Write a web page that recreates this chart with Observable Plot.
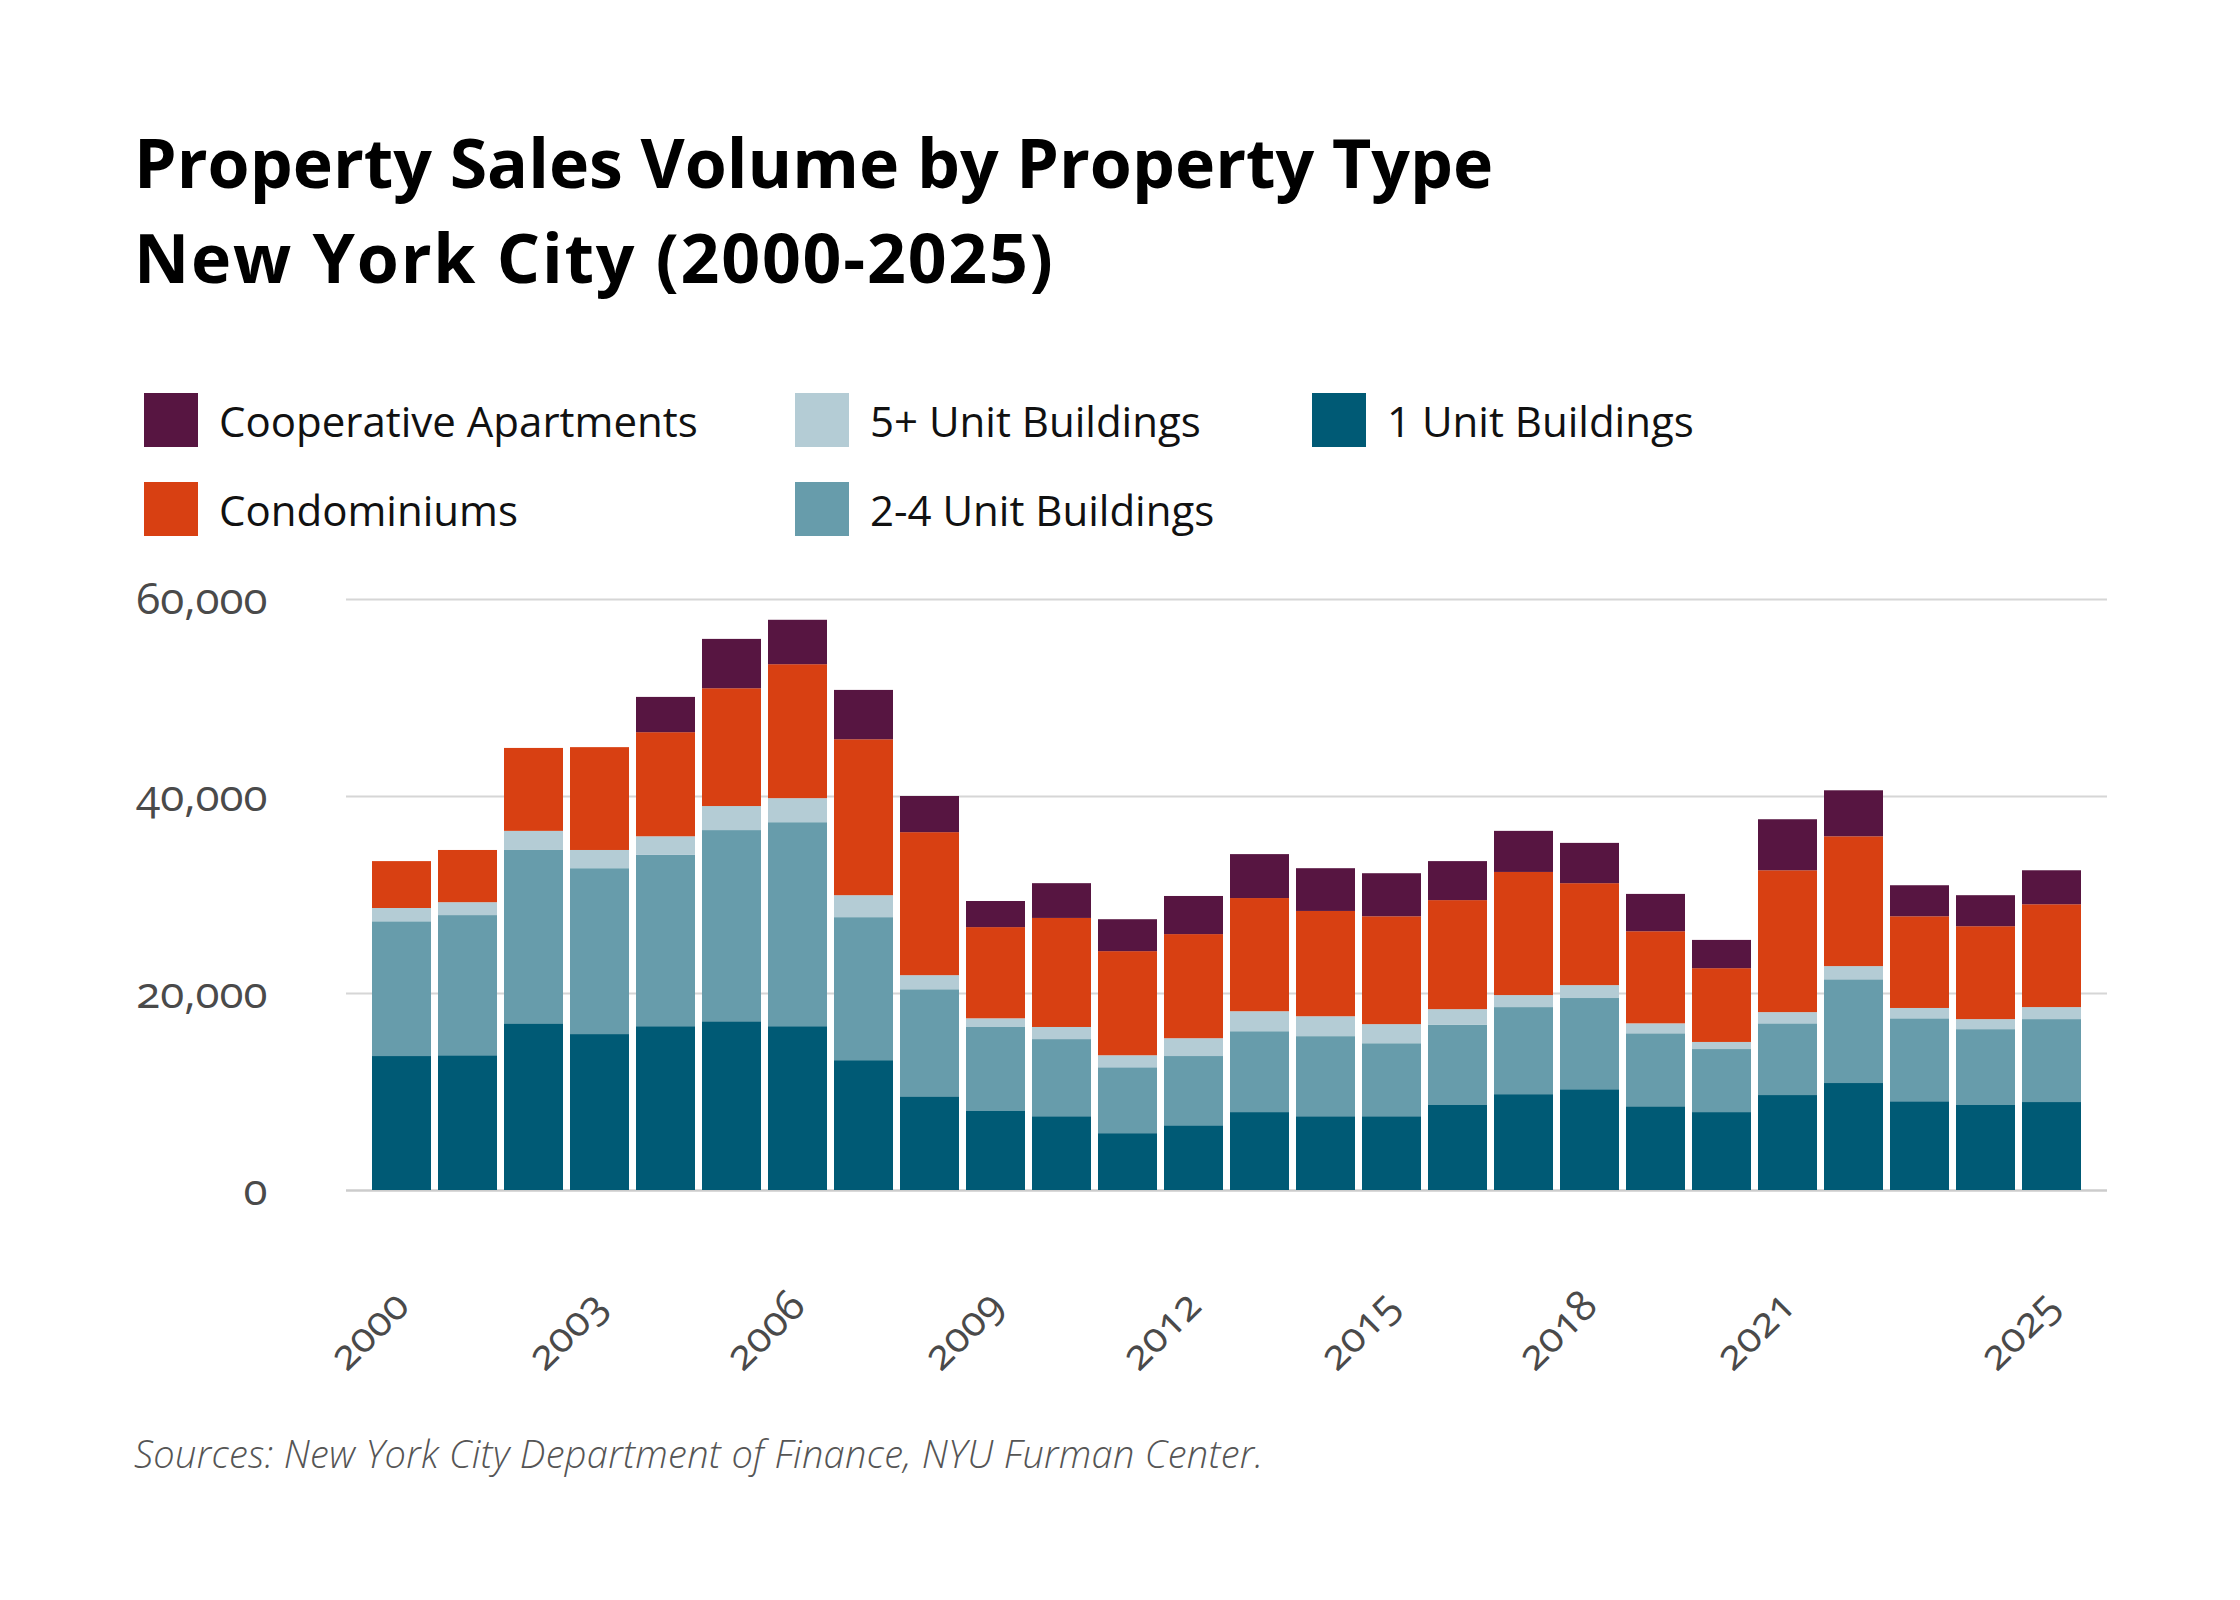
<!DOCTYPE html>
<html>
<head>
<meta charset="utf-8">
<script src="https://cdn.jsdelivr.net/npm/d3@7"></script>
<script src="https://cdn.jsdelivr.net/npm/@observablehq/plot@0.6"></script>
<style>
  html, body { margin: 0; padding: 0; background: #fff; }
  #page { position: relative; width: 2240px; height: 1600px; background: #fff; overflow: hidden; }
  #title { position: absolute; left: 134px; top: 114px; font-family: "Open Sans", Roboto, sans-serif; font-weight: 700; font-size: 68px; line-height: 95px; color: #000; white-space: nowrap; letter-spacing: 0px; }
  #title .l2 { letter-spacing: 1.8px; }
  #legend { position: absolute; left: 144px; top: 393px; display: grid; grid-template-columns: 651px 517px auto; grid-template-rows: 54px 54px; row-gap: 35px; grid-auto-flow: column; font-family: "Open Sans", Roboto, sans-serif; font-size: 42px; color: #111; }
  .item { display: flex; align-items: center; white-space: nowrap; }
  .sw { width: 54px; height: 54px; margin-right: 21px; flex: none; }
  #chart { position: absolute; left: 0; top: 560px; }
  #source { position: absolute; left: 134px; top: 1427px; font-family: "Open Sans", Lato, sans-serif; font-style: italic; font-weight: 300; font-size: 38px; color: #555; white-space: nowrap; letter-spacing: 0.3px; }
</style>
</head>
<body>
<div id="page">
  <div id="title">Property Sales Volume by Property Type<br><span class="l2">New York City (2000-2025)</span></div>
  <div id="legend"></div>
  <div id="chart"></div>
  <div id="source">Sources: New York City Department of Finance, NYU Furman Center.</div>
</div>
<script>
const years = [2000,2001,2002,2003,2004,2005,2006,2007,2008,2009,2010,2011,2012,2013,2014,2015,2016,2017,2018,2019,2020,2021,2022,2023,2024,2025];
const oneUnit  = [13600,13680,16920,15830,16630,17130,16630,13180,9510,8080,7490,5770,6570,7910,7490,7490,8630,9730,10230,8500,7910,9640,10860,9010,8630,8930];
const twoFour  = [13680,14230,17600,16840,17390,19410,20710,14520,10870,8470,7830,6690,7030,8210,8130,7410,8130,8840,9260,7410,6400,7280,10530,8420,7700,8420];
const fivePlus = [1350,1310,1940,1850,1890,2440,2440,2230,1430,880,1230,1220,1810,2030,2020,1940,1600,1220,1310,1010,720,1140,1340,1050,1020,1220];
const condo    = [4760,5300,8420,10440,10570,11960,13600,15830,14520,9260,11070,10570,10570,11490,10690,10950,11070,12500,10350,9350,7490,14400,13180,9310,9430,10440];
const coop     = [0,0,0,0,3580,5010,4510,5010,3670,2650,3530,3240,3870,4460,4340,4370,3960,4170,4090,3790,2870,5180,4670,3150,3150,3450];

const seriesNames = ["1 Unit Buildings","2-4 Unit Buildings","5+ Unit Buildings","Condominiums","Cooperative Apartments"];
const seriesColors = ["#005a75","#679cab","#b4ccd5","#d84012","#571541"];
const legendOrder = ["Cooperative Apartments","Condominiums","5+ Unit Buildings","2-4 Unit Buildings","1 Unit Buildings"];
const xTicks = [2000,2003,2006,2009,2012,2015,2018,2021,2025];
const yTicks = [0,20000,40000,60000];

const seriesValues = [oneUnit, twoFour, fivePlus, condo, coop];
const data = [];
years.forEach((yr, i) => {
  seriesNames.forEach((s, j) => data.push({year: yr, type: s, value: seriesValues[j][i]}));
});

// legend
const legend = document.getElementById("legend");
legendOrder.forEach(name => {
  const item = document.createElement("div");
  item.className = "item";
  const sw = document.createElement("div");
  sw.className = "sw";
  sw.style.background = seriesColors[seriesNames.indexOf(name)];
  const t = document.createElement("span");
  t.textContent = name;
  item.appendChild(sw);
  item.appendChild(t);
  legend.appendChild(item);
});

const chart = Plot.plot({
  width: 2240,
  height: 900,
  marginTop: 39,
  marginBottom: 270,
  marginLeft: 346,
  marginRight: 133,
  style: {fontFamily: "'Open Sans', Lato, sans-serif", fontSize: "44px", color: "#4a4a4a", background: "#fff", fontVariantNumeric: "oldstyle-nums", fontFeatureSettings: "'onum' 1"},
  x: {type: "band", domain: years, paddingInner: 0.104, paddingOuter: 0.209, label: null},
  y: {domain: [0, 60000], label: null},
  color: {domain: seriesNames, range: seriesColors},
  marks: [
    Plot.gridY(yTicks.filter(d => d > 0), {stroke: "#d6d6d6", strokeOpacity: 1, strokeWidth: 2}),
    Plot.ruleY([0], {stroke: "#cccccc", strokeWidth: 2.5}),
    Plot.barY(data, Plot.stackY({x: "year", y: "value", fill: "type", order: seriesNames})),
    Plot.axisY({ticks: yTicks, tickSize: 0, tickPadding: 79, tickFormat: d3.format(","), label: null, fontSize: 44}),
    Plot.axisX({ticks: xTicks, tickSize: 0, tickPadding: 108, tickRotate: -45, tickFormat: d => `${d}`, label: null, fontSize: 42})
  ]
});
document.getElementById("chart").appendChild(chart);
</script>
</body>
</html>
